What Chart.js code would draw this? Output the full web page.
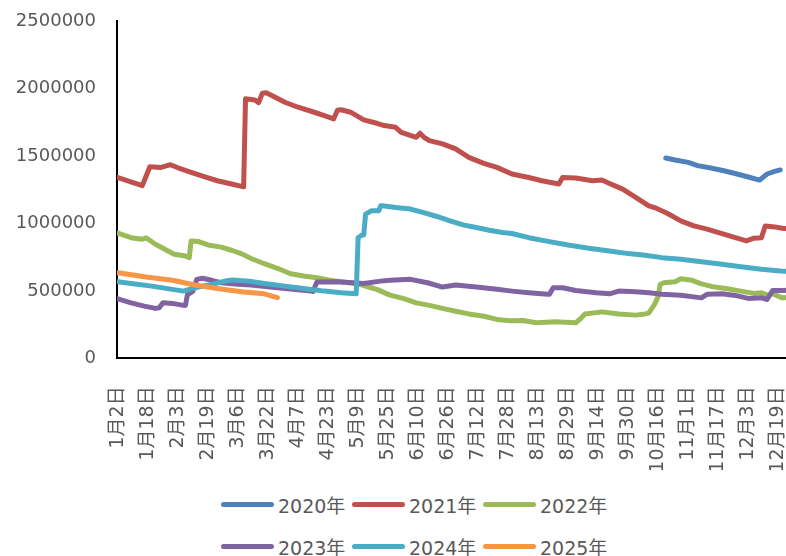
<!DOCTYPE html>
<html>
<head>
<meta charset="utf-8">
<script src="https://cdn.jsdelivr.net/npm/chart.js@4/dist/chart.umd.min.js"></script>
<style>
  html, body { margin: 0; padding: 0; background: #fff; overflow: hidden; }
  #wrap { position: relative; width: 830px; height: 556px; }
  #c { position: absolute; left: 0; top: 0; }
  #legend { position: absolute; left: 221px; top: 483px; display: grid;
            grid-template-columns: 131px 131px 131px; grid-auto-rows: 42px; }
  #legend .item { display: flex; align-items: center; white-space: nowrap;
                  font-family: "DejaVu Sans", "Noto Sans CJK SC", sans-serif; font-size: 19px; color: #595959; }
  #legend .sw { display: inline-block; width: 53px; height: 5px; border-radius: 3px; margin-right: 4px; }
</style>
</head>
<body>
<div id="wrap">
  <canvas id="c" width="830" height="470"></canvas>
  <div id="legend"></div>
</div>
<script>
// x-axis: day index counted from 1月2日 (daily categories, every 16th labelled)
const tickLabels = ['1月2日','1月18日','2月3日','2月19日','3月6日','3月22日','4月7日','4月23日',
  '5月9日','5月25日','6月10日','6月26日','7月12日','7月28日','8月13日','8月29日','9月14日',
  '9月30日','10月16日','11月1日','11月17日','12月3日','12月19日'];
const tickDays = [0,16,32,48,64,80,96,112,128,144,160,176,192,208,224,240,256,272,288,304,320,336,352];

const seriesNames = ['2020年','2021年','2022年','2023年','2024年','2025年'];

const days2020 = [292,297,304,309,316,323,330,337,342,346,350,353];
const vals2020 = [1485000,1470000,1452000,1428000,1410000,1390000,1366000,1340000,1321000,1366000,1385000,1396000];

const days2021 = [0,13,17,23,28,32,39,46,53,60,67,68,73,75,77,79,82,89,96,103,110,115,117,119,124,131,138,142,148,151,159,161,163,166,173,180,187,195,202,210,219,226,235,237,244,253,258,262,269,276,283,286,293,300,307,314,322,330,335,339,343,345,350,354,358];
const vals2021 = [1340000,1280000,1420000,1415000,1435000,1412000,1378000,1346000,1316000,1294000,1271000,1923000,1915000,1895000,1965000,1968000,1948000,1898000,1861000,1831000,1799000,1775000,1838000,1842000,1824000,1767000,1742000,1725000,1712000,1675000,1638000,1668000,1640000,1613000,1589000,1552000,1489000,1445000,1415000,1366000,1340000,1316000,1292000,1340000,1336000,1316000,1321000,1296000,1254000,1192000,1130000,1117000,1073000,1019000,981000,957000,924000,890000,870000,890000,894000,981000,974000,964000,960000];

const days2022 = [0,7,13,15,20,25,30,36,38,39,43,48,55,61,66,71,78,85,92,99,106,113,120,128,135,138,145,152,159,166,173,180,187,195,202,209,216,223,233,244,247,249,258,267,276,281,283,286,288,289,291,297,300,306,311,318,325,332,339,343,346,349,354,358];
const vals2022 = [927000,894000,882000,894000,845000,808000,771000,758000,746000,870000,865000,840000,824000,799000,774000,740000,701000,667000,627000,610000,597000,578000,565000,552000,523000,511000,468000,444000,411000,392000,370000,349000,329000,312000,288000,278000,280000,263000,270000,263000,300000,329000,344000,329000,320000,329000,337000,399000,461000,548000,560000,567000,590000,578000,552000,528000,515000,498000,481000,486000,468000,478000,448000,450000];

const days2023 = [0,7,14,20,22,24,29,35,36,37,40,42,45,50,55,64,71,85,103,104,106,117,131,140,145,156,165,173,180,191,202,210,219,229,230,232,237,244,255,262,267,276,283,290,300,311,314,322,329,336,343,346,349,354,358];
const vals2023 = [441000,411000,387000,370000,374000,411000,407000,392000,392000,470000,498000,585000,593000,578000,560000,548000,543000,523000,498000,495000,565000,567000,555000,572000,578000,585000,560000,528000,543000,528000,511000,498000,486000,474000,474000,523000,523000,503000,486000,478000,498000,493000,486000,474000,468000,448000,474000,478000,466000,444000,448000,436000,503000,503000,505000];

const days2024 = [0,7,18,29,35,41,50,58,61,70,78,89,99,110,119,127,128,130,131,132,135,139,140,141,148,156,163,170,177,184,191,198,205,210,219,230,240,251,262,272,281,290,300,311,322,332,343,353,358];
const vals2024 = [567000,555000,535000,511000,498000,523000,548000,575000,580000,572000,555000,535000,518000,498000,486000,478000,894000,914000,914000,1068000,1093000,1093000,1130000,1130000,1117000,1106000,1080000,1051000,1019000,989000,969000,949000,932000,925000,894000,865000,840000,816000,796000,776000,764000,746000,734000,716000,697000,679000,660000,647000,644000];

const days2025 = [0,15,29,41,53,67,78,85];
const vals2025 = [634000,602000,578000,543000,518000,492000,478000,450000];

const colors = ['#4F81BD','#C0504D','#9BBB59','#8064A2','#4BACC6','#F79646'];
const allDays = [days2020, days2021, days2022, days2023, days2024, days2025];
const allVals = [vals2020, vals2021, vals2022, vals2023, vals2024, vals2025];

const datasets = seriesNames.map((name, i) => ({
  label: name,
  data: allDays[i].map((d, j) => ({x: d, y: allVals[i][j]})),
  borderColor: colors[i],
  backgroundColor: colors[i],
  order: 5 - i
}));

const htmlLegend = {
  id: 'htmlLegend',
  afterUpdate(chart) {
    const box = document.getElementById('legend');
    box.innerHTML = '';
    chart.data.datasets.forEach(ds => {
      const item = document.createElement('div');
      item.className = 'item';
      const sw = document.createElement('span');
      sw.className = 'sw';
      sw.style.background = ds.borderColor;
      const tx = document.createElement('span');
      tx.textContent = ds.label;
      item.append(sw, tx);
      box.append(item);
    });
  }
};

const CANVAS_H = 470;
const tickFont = {family: '"DejaVu Sans", "Noto Sans CJK SC", sans-serif', size: 18};

new Chart(document.getElementById('c'), {
  type: 'line',
  data: { datasets },
  plugins: [htmlLegend],
  options: {
    responsive: false,
    animation: false,
    layout: { padding: { top: 21, right: 25, bottom: 0, left: 0 } },
    plugins: { legend: { display: false }, tooltip: { enabled: false } },
    elements: {
      point: { radius: 0 },
      line: { borderWidth: 5, tension: 0, borderCapStyle: 'round', borderJoinStyle: 'round' }
    },
    scales: {
      x: {
        type: 'linear', min: -0.5, max: 364.5,
        afterBuildTicks: (s) => { s.ticks = tickDays.map(v => ({ value: v })); },
        afterFit: (s) => { s.height = CANVAS_H - 358.3; },
        grid: { drawOnChartArea: false, drawTicks: false },
        border: { display: true, color: '#000', width: 2 },
        ticks: {
          autoSkip: false, minRotation: 90, maxRotation: 90, padding: 28,
          color: '#595959', font: { family: tickFont.family, size: 19 },
          callback: (v, i) => tickLabels[i]
        }
      },
      y: {
        min: 0, max: 2500000,
        afterFit: (s) => { s.width = 117; s.paddingTop = 0; s.paddingBottom = 0; },
        grid: { drawOnChartArea: false, drawTicks: false },
        border: { display: true, color: '#000', width: 2 },
        ticks: {
          stepSize: 500000, padding: 21, color: '#595959', font: tickFont,
          callback: (v) => String(v)
        }
      }
    }
  }
});
</script>
</body>
</html>
